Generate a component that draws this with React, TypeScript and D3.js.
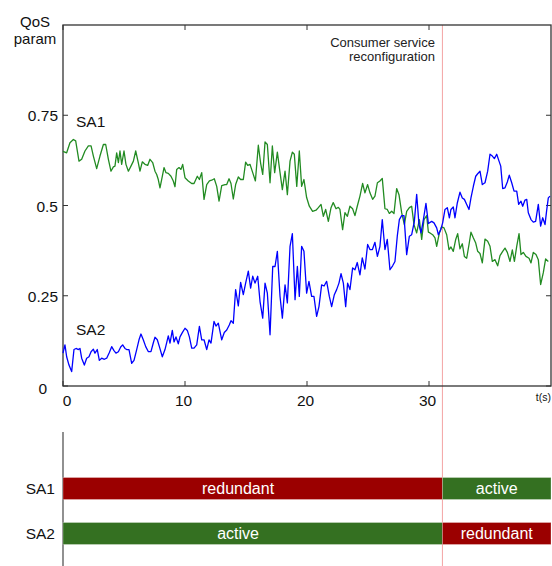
import { useEffect } from "react";
import * as d3 from "d3";

// SA1 QoS samples: [time (s), value]
const sa1Series: [number, number][] = [
  [0.0, 0.65], [0.3, 0.646], [0.57, 0.674], [0.85, 0.683], [1.04, 0.679], [1.31, 0.623], [1.53, 0.628], [1.8, 0.651],
  [2.08, 0.665], [2.3, 0.665], [2.49, 0.637], [2.76, 0.602], [3.03, 0.637], [3.31, 0.669], [3.5, 0.669], [3.72, 0.628],
  [3.93, 0.595], [4.13, 0.607], [4.26, 0.609], [4.4, 0.646], [4.54, 0.619], [4.67, 0.651], [4.81, 0.614], [5.0, 0.651],
  [5.16, 0.614], [5.36, 0.595], [5.57, 0.609], [5.77, 0.623], [5.96, 0.651], [6.17, 0.619], [6.31, 0.595], [6.5, 0.621],
  [6.72, 0.614], [6.94, 0.611], [7.13, 0.628], [7.35, 0.619], [7.54, 0.595], [7.68, 0.586], [7.81, 0.572], [7.95, 0.549],
  [8.14, 0.581], [8.28, 0.605], [8.44, 0.591], [8.63, 0.589], [8.85, 0.581], [9.04, 0.568], [9.18, 0.552], [9.32, 0.6],
  [9.51, 0.605], [9.67, 0.6], [9.81, 0.614], [10.0, 0.577], [10.27, 0.568], [10.55, 0.561], [10.74, 0.561], [11.01, 0.581],
  [11.18, 0.572], [11.37, 0.591], [11.56, 0.517], [11.78, 0.558], [12.0, 0.568], [12.19, 0.57], [12.4, 0.574], [12.6, 0.553],
  [12.79, 0.512], [13.01, 0.555], [13.28, 0.558], [13.42, 0.558], [13.61, 0.574], [13.77, 0.561], [13.96, 0.518], [14.15, 0.558],
  [14.37, 0.579], [14.56, 0.572], [14.78, 0.572], [14.97, 0.62], [15.14, 0.611], [15.33, 0.614], [15.55, 0.591], [15.77, 0.568],
  [16.01, 0.667], [16.2, 0.617], [16.37, 0.586], [16.56, 0.676], [16.75, 0.669], [16.97, 0.563], [17.16, 0.665], [17.35, 0.591],
  [17.57, 0.648], [17.79, 0.591], [17.98, 0.544], [18.2, 0.595], [18.39, 0.53], [18.61, 0.623], [18.8, 0.648], [18.96, 0.642],
  [19.16, 0.553], [19.37, 0.651], [19.56, 0.553], [19.75, 0.572], [19.97, 0.522], [20.19, 0.498], [20.46, 0.484], [20.74, 0.487],
  [20.93, 0.494], [21.15, 0.503], [21.34, 0.47], [21.53, 0.489], [21.75, 0.456], [21.97, 0.494], [22.15, 0.508], [22.38, 0.491],
  [22.57, 0.495], [22.7, 0.489], [22.92, 0.433], [23.11, 0.48], [23.31, 0.47], [23.52, 0.498], [23.74, 0.491], [23.93, 0.472],
  [24.12, 0.498], [24.34, 0.526], [24.56, 0.561], [24.75, 0.535], [24.97, 0.558], [25.16, 0.535], [25.38, 0.517], [25.57, 0.526],
  [25.77, 0.563], [25.98, 0.568], [26.17, 0.575], [26.39, 0.491], [26.58, 0.489], [26.75, 0.478], [26.94, 0.484], [27.13, 0.478],
  [27.35, 0.547], [27.54, 0.53], [27.76, 0.48], [27.98, 0.447], [28.17, 0.484], [28.39, 0.494], [28.58, 0.498], [28.77, 0.447],
  [28.99, 0.424], [29.21, 0.461], [29.4, 0.406], [29.59, 0.461], [29.81, 0.472], [29.95, 0.426], [30.08, 0.424], [30.3, 0.419],
  [30.49, 0.41], [30.63, 0.387], [30.85, 0.424], [31.04, 0.441], [31.23, 0.438], [31.45, 0.419], [31.64, 0.378], [31.8, 0.385],
  [31.99, 0.373], [32.19, 0.406], [32.35, 0.422], [32.54, 0.38], [32.73, 0.394], [32.9, 0.359], [33.09, 0.354], [33.28, 0.392],
  [33.44, 0.426], [33.64, 0.41], [33.83, 0.396], [33.99, 0.373], [34.18, 0.367], [34.37, 0.341], [34.59, 0.407], [34.81, 0.401],
  [35.0, 0.387], [35.19, 0.345], [35.41, 0.35], [35.63, 0.333], [35.82, 0.361], [36.04, 0.373], [36.23, 0.382], [36.42, 0.37],
  [36.64, 0.345], [36.83, 0.377], [37.0, 0.345], [37.19, 0.387], [37.38, 0.422], [37.54, 0.364], [37.73, 0.37], [37.95, 0.359],
  [38.2, 0.354], [38.36, 0.341], [38.55, 0.37], [38.77, 0.364], [38.96, 0.35], [39.15, 0.281], [39.37, 0.314], [39.56, 0.352],
  [39.78, 0.345],
];

// SA2 QoS samples: [time (s), value]
const sa2Series: [number, number][] = [
  [0.0, 0.091], [0.16, 0.114], [0.3, 0.081], [0.49, 0.058], [0.71, 0.04], [0.9, 0.101], [1.07, 0.104], [1.26, 0.101],
  [1.39, 0.104], [1.53, 0.077], [1.75, 0.058], [1.94, 0.077], [2.13, 0.081], [2.3, 0.095], [2.49, 0.102], [2.62, 0.091],
  [2.81, 0.101], [2.98, 0.071], [3.17, 0.077], [3.39, 0.074], [3.58, 0.077], [3.8, 0.093], [3.99, 0.109], [4.18, 0.098],
  [4.34, 0.091], [4.54, 0.095], [4.73, 0.108], [4.89, 0.114], [5.08, 0.104], [5.22, 0.101], [5.41, 0.101], [5.63, 0.063],
  [5.82, 0.071], [6.04, 0.101], [6.23, 0.128], [6.39, 0.144], [6.58, 0.128], [6.78, 0.109], [7.0, 0.095], [7.21, 0.095],
  [7.4, 0.119], [7.54, 0.135], [7.73, 0.128], [7.9, 0.109], [8.14, 0.081], [8.36, 0.101], [8.5, 0.12], [8.63, 0.139],
  [8.77, 0.119], [8.96, 0.154], [9.1, 0.122], [9.26, 0.136], [9.45, 0.117], [9.59, 0.136], [9.78, 0.148], [10.0, 0.16],
  [10.19, 0.154], [10.36, 0.136], [10.55, 0.105], [10.74, 0.105], [10.96, 0.114], [11.18, 0.165], [11.37, 0.128], [11.56, 0.128],
  [11.78, 0.101], [11.97, 0.128], [12.13, 0.119], [12.38, 0.179], [12.54, 0.166], [12.73, 0.174], [13.01, 0.128], [13.22, 0.148],
  [13.42, 0.155], [13.63, 0.169], [13.77, 0.181], [13.96, 0.174], [14.15, 0.267], [14.37, 0.222], [14.56, 0.287], [14.78, 0.253],
  [14.97, 0.285], [15.19, 0.318], [15.38, 0.271], [15.55, 0.304], [15.74, 0.285], [15.96, 0.304], [16.15, 0.234], [16.37, 0.188],
  [16.56, 0.285], [16.75, 0.257], [16.97, 0.142], [17.19, 0.331], [17.38, 0.331], [17.57, 0.373], [17.79, 0.248], [17.98, 0.188],
  [18.2, 0.28], [18.39, 0.23], [18.61, 0.387], [18.8, 0.422], [19.02, 0.239], [19.21, 0.331], [19.37, 0.248], [19.56, 0.387],
  [19.75, 0.373], [19.97, 0.257], [20.16, 0.29], [20.38, 0.248], [20.57, 0.248], [20.79, 0.193], [20.98, 0.22], [21.2, 0.28],
  [21.4, 0.277], [21.61, 0.29], [21.83, 0.248], [22.02, 0.22], [22.24, 0.253], [22.43, 0.267], [22.62, 0.285], [22.79, 0.311],
  [22.98, 0.285], [23.17, 0.22], [23.33, 0.285], [23.52, 0.267], [23.74, 0.327], [23.93, 0.322], [24.12, 0.342], [24.34, 0.308],
  [24.53, 0.355], [24.75, 0.324], [24.97, 0.392], [25.16, 0.378], [25.36, 0.378], [25.57, 0.398], [25.77, 0.359], [25.98, 0.387],
  [26.17, 0.461], [26.39, 0.378], [26.58, 0.406], [26.8, 0.322], [27.02, 0.333], [27.21, 0.345], [27.4, 0.415], [27.57, 0.461],
  [27.76, 0.472], [27.95, 0.472], [28.17, 0.364], [28.39, 0.415], [28.58, 0.419], [28.8, 0.456], [28.99, 0.531], [29.18, 0.447],
  [29.35, 0.424], [29.54, 0.461], [29.75, 0.506], [29.95, 0.45], [30.22, 0.456], [30.41, 0.452], [30.63, 0.438], [30.77, 0.419],
  [30.96, 0.433], [31.12, 0.452], [31.31, 0.489], [31.5, 0.494], [31.67, 0.466], [31.8, 0.489], [31.99, 0.496], [32.13, 0.466],
  [32.32, 0.507], [32.54, 0.537], [32.73, 0.521], [32.9, 0.517], [33.09, 0.503], [33.28, 0.489], [33.44, 0.521], [33.64, 0.554],
  [33.83, 0.581], [33.99, 0.588], [34.18, 0.595], [34.37, 0.558], [34.59, 0.563], [34.81, 0.595], [35.0, 0.642], [35.19, 0.637],
  [35.36, 0.63], [35.55, 0.642], [35.74, 0.623], [35.88, 0.609], [36.04, 0.547], [36.23, 0.549], [36.42, 0.565], [36.58, 0.584],
  [36.78, 0.563], [36.97, 0.54], [37.19, 0.54], [37.35, 0.503], [37.54, 0.512], [37.68, 0.498], [37.87, 0.515], [38.01, 0.517],
  [38.14, 0.48], [38.36, 0.461], [38.55, 0.454], [38.74, 0.456], [38.96, 0.503], [39.15, 0.443], [39.32, 0.466], [39.51, 0.447],
  [39.64, 0.485], [39.78, 0.521], [39.92, 0.526],
];

const xTicks = [0, 10, 20, 30];
const yTicks = [0, 0.25, 0.5, 0.75];
const yTickLabels = ["0", "0.25", "0.5", "0.75"];

const reconfigTime = 31.1;
const agents = ["SA1", "SA2"];
const phaseBounds = [0, reconfigTime, 40];
const phaseLabelAt = [14.35, 35.55];
const sa1States = ["redundant", "active"];
const sa2States = ["active", "redundant"];

const W = 552;
const H = 566;
const FONT = "'Liberation Sans', Arial, sans-serif";
const AXIS = "#333";
const TXT = "#111";

export default function App() {
  useEffect(() => {
    document.body.style.margin = "0";
  }, []);

  const x = d3.scaleLinear().domain([0, 40]).range([63, 551]);
  const y = d3.scaleLinear().domain([0, 1]).range([386, 25]);
  const lane = d3.scalePoint<string>().domain(agents).range([488.5, 533.5]);

  const line = d3
    .line<[number, number]>()
    .x((d) => x(d[0]))
    .y((d) => y(d[1]));

  const stateColor = (s: string) => (s === "active" ? "#347021" : "#9b0000");
  const barH = 22;
  const rx = x(reconfigTime);

  return (
    <svg width={W} height={H} style={{ display: "block", fontFamily: FONT }}>
      {/* reconfiguration marker */}
      <line x1={rx} x2={rx} y1={y(1)} y2={H} stroke="#f3a3a3" strokeWidth={1} />

      {/* frame */}
      <rect x={x(0)} y={y(1)} width={x(40) - x(0)} height={y(0) - y(1)} fill="none" stroke={AXIS} strokeWidth={1.3} />

      {/* x ticks, inward top & bottom */}
      {xTicks.map((t) => (
        <g key={"xt" + t}>
          <line x1={x(t)} x2={x(t)} y1={y(0)} y2={y(0) - 5} stroke={AXIS} />
          <line x1={x(t)} x2={x(t)} y1={y(1)} y2={y(1) + 5} stroke={AXIS} />
          <text x={t === 0 ? x(t) + 4 : x(t) - 1.5} y={405.5} fontSize={15.5} textAnchor="middle" fill={TXT}>
            {t}
          </text>
        </g>
      ))}

      {/* y ticks, inward left & right */}
      {yTicks.map((v, i) => (
        <g key={"yt" + v}>
          <line x1={x(0)} x2={x(0) + 5} y1={y(v)} y2={y(v)} stroke={AXIS} />
          <line x1={x(40)} x2={x(40) - 5} y1={y(v)} y2={y(v)} stroke={AXIS} />
          <text
            x={v === 0 ? 47 : 58}
            y={v === 0 ? y(v) + 7.5 : y(v) + 6}
            fontSize={15.5}
            textAnchor="end"
            fill={TXT}
          >
            {yTickLabels[i]}
          </text>
        </g>
      ))}

      <text x={35} y={27} fontSize={15} textAnchor="middle" fill={TXT}>QoS</text>
      <text x={35} y={44} fontSize={15} textAnchor="middle" fill={TXT}>param</text>
      <text x={551} y={401} fontSize={10.5} textAnchor="end" fill={TXT}>t(s)</text>

      <text x={435} y={47} fontSize={13} textAnchor="end" fill="#222">Consumer service</text>
      <text x={435} y={61} fontSize={13} textAnchor="end" fill="#222">reconfiguration</text>

      {/* series */}
      <path d={line(sa1Series) ?? ""} fill="none" stroke="#228b22" strokeWidth={1.3} strokeLinejoin="round" />
      <path d={line(sa2Series) ?? ""} fill="none" stroke="#0000ff" strokeWidth={1.3} strokeLinejoin="round" />

      <text x={76} y={127} fontSize={15.5} fill={TXT}>SA1</text>
      <text x={76} y={335} fontSize={15.5} fill={TXT}>SA2</text>

      {/* role timeline */}
      <line x1={x(0)} x2={x(0)} y1={432} y2={H} stroke="#555" strokeWidth={1.3} />
      {agents.map((a) => {
        const states = a === "SA1" ? sa1States : sa2States;
        const cy = lane(a) as number;
        return (
          <g key={a}>
            <text x={55} y={cy + 5.5} fontSize={15.5} textAnchor="end" fill={TXT}>
              {a}
            </text>
            {states.map((s, i) => {
              const x0 = x(phaseBounds[i]);
              const x1 = x(phaseBounds[i + 1]);
              return (
                <g key={a + i}>
                  <rect
                    x={x0}
                    y={cy - barH / 2}
                    width={x1 - x0}
                    height={barH}
                    fill={stateColor(s)}
                    stroke="#fff"
                    strokeOpacity={0.35}
                    strokeWidth={0.8}
                  />
                  <text x={x(phaseLabelAt[i])} y={cy + 5.5} fontSize={16} textAnchor="middle" fill="#fff">
                    {s}
                  </text>
                </g>
              );
            })}
          </g>
        );
      })}
    </svg>
  );
}
